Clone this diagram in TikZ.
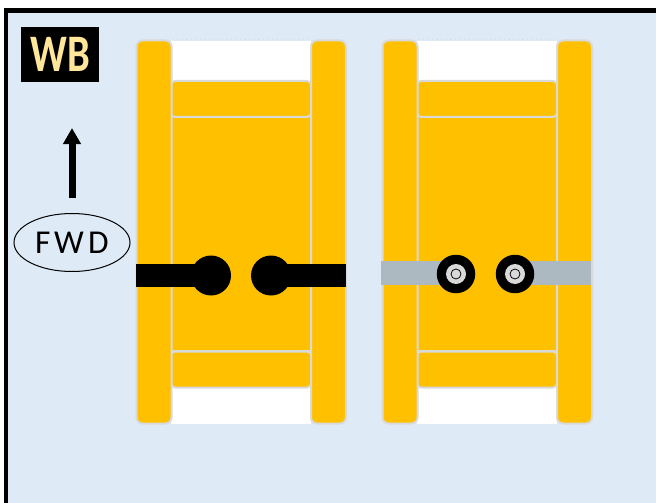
\documentclass[tikz,border=0pt]{standalone}
\usepackage{fontspec}
\setmainfont{Carlito}
\newfontfamily\badgefont[FakeStretch=0.77]{Carlito}
\usetikzlibrary{positioning,arrows.meta,calc,shapes.geometric}
\definecolor{panelblue}{HTML}{DEEAF6}
\definecolor{bodygold}{HTML}{FFC000}
\definecolor{edgegray}{HTML}{D9D9D9}
\definecolor{axlegray}{HTML}{ADB9C1}
\definecolor{badgeyellow}{HTML}{FFE699}
\begin{document}
\begin{tikzpicture}[
    x=0.2mm, y=-0.2mm,
    rail/.style={rectangle, fill=bodygold, draw=edgegray, line width=0.4mm, rounded corners=1.2mm,
                 inner sep=0pt, minimum width=7mm, minimum height=76.6mm},
    deck/.style={rectangle, fill=white, inner sep=0pt, minimum width=28mm, minimum height=76.4mm},
    hull/.style={rectangle, fill=bodygold, draw=edgegray, line width=0.4mm, inner sep=0pt,
                 minimum width=28mm, minimum height=47mm},
    pad/.style={rectangle, fill=bodygold, draw=edgegray, line width=0.4mm, rounded corners=0.8mm,
                inner sep=0pt, minimum width=28mm, minimum height=7.2mm},
    hub/.style={circle, fill=black, inner sep=0pt, minimum size=8mm},
    bigdisc/.style={circle, fill=black, inner sep=0pt, minimum size=7.7mm},
    hubcap/.style={circle, fill=edgegray, inner sep=0pt, minimum size=4mm},
    pin/.style={circle, fill=edgegray, draw=black, line width=0.15mm, inner sep=0pt, minimum size=2mm},
  ]
  \useasboundingbox (0,0) rectangle (656,503);
  % panel with its frame running off the right and bottom
  \fill[white] (0,0) rectangle (656,503);
  \fill[panelblue] (6,10) rectangle (656,503);
  \draw[line width=0.95mm, line cap=rect] (6,503) -- (6,10.5) -- (656,10.5);

  % badge
  \node[rectangle, fill=black, text=badgeyellow, inner sep=0pt, minimum width=15.6mm, minimum height=11mm,
        font=\badgefont\bfseries\fontsize{30}{30}\selectfont] (badge) at (60,54.5) {WB};

  % forward arrow and its label
  \node[ellipse, draw=black, line width=0.2mm, inner sep=0pt, minimum width=23.2mm, minimum height=11.6mm,
        font=\fontsize{19}{20}\selectfont] (fwd) at (72,242.5) {F\hspace{0.7mm}W\hspace{0.9mm}D};
  \coordinate (tip) at (72,128);
  \coordinate (tail) at (72,198);
  \draw[-{Triangle[length=3.2mm,width=3.4mm]}, line width=1.4mm] (tail) -- (tip);

  % both vehicles share deck, rails and pads
  \foreach \n/\dx in {a/0,b/246} {
    \node[deck] (deck\n) at ({241+\dx},232.5) {};
    \node[hull] (hull\n) at ({241+\dx},233.5) {};
    \node[pad] (top\n) at ({241+\dx},99) {};
    \node[pad] (bot\n) at ({241+\dx},369.5) {};
    \node[rail] (left\n) at ({154+\dx},232) {};
    \node[rail] (right\n) at ({328.5+\dx},232) {};
    \draw[edgegray, dotted, line width=0.2mm] (left\n.north east) -- (right\n.north west);
  }

  % left vehicle: solid axles
  \node[hub] (wheelal) at (211,275.5) {};
  \node[hub] (wheelar) at (271,275.5) {};
  \coordinate (stubal) at (136,275.5);
  \coordinate (stubar) at (346,275.5);
  \draw[line width=4.6mm] (stubal) -- (wheelal.center);
  \draw[line width=4.6mm] (stubar) -- (wheelar.center);

  % right vehicle: grey axles, ringed wheels
  \coordinate (stubbl) at (381,273);
  \coordinate (stubbr) at (591,273);
  \coordinate (midbl) at (456,273);
  \coordinate (midbr) at (515,273);
  \draw[axlegray, line width=4.8mm] (stubbl) -- (midbl);
  \draw[axlegray, line width=4.8mm] (stubbr) -- (midbr);
  \foreach \n/\x in {bl/456,br/515} {
    \node[bigdisc] (wheel\n) at (\x,274) {};
    \node[hubcap] (cap\n) at (wheel\n) {};
    \node[pin] (pin\n) at (wheel\n) {};
  }
\end{tikzpicture}
\end{document}
